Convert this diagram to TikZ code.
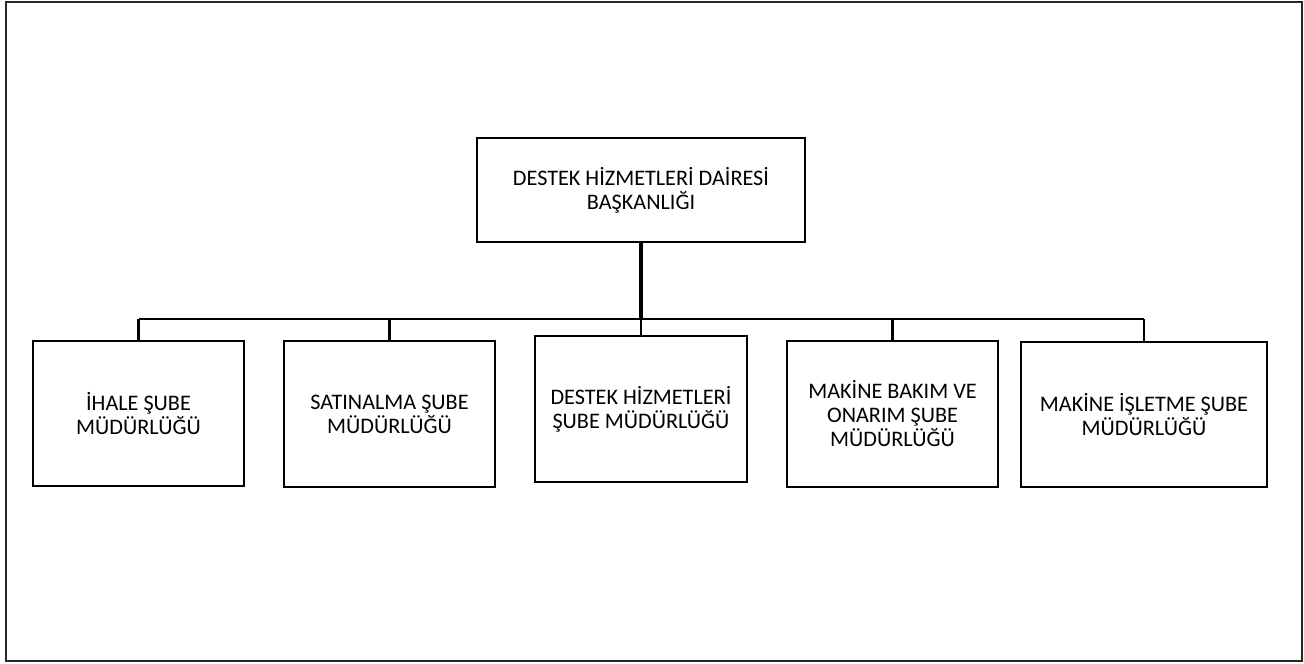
\documentclass[tikz,border=0pt]{standalone}
\usepackage{fontspec}
\setmainfont{Carlito}
\usetikzlibrary{positioning}

\begin{document}
\begin{tikzpicture}[
  x=1pt,y=-1pt,
  font=\fontsize{22.2}{24}\selectfont,
  unit/.style={draw,line width=2.8pt,align=center,inner sep=0pt},
  stem/.style={line width=3.2pt},
  link/.style={line width=2.4pt},
  frame/.style={draw=black!85,line width=2.6pt}
]
% page size and outer frame
\useasboundingbox (0,0) rectangle (1304,664);
\draw[frame] (6,2) rectangle (1302,661);

% head of the department
\node[unit,minimum width=328pt,minimum height=104pt] (dhdb) at (641,190)
  {DESTEK HİZMETLERİ DAİRESİ\\BAŞKANLIĞI};

% branch offices (left, right, top, bottom in px)
\foreach \id/\xa/\xb/\ya/\yb/\txt in {
  ihale/33/244/341/486/{İHALE ŞUBE\\MÜDÜRLÜĞÜ},
  satin/284/495/341/487/{SATINALMA ŞUBE\\MÜDÜRLÜĞÜ},
  destek/535/747/336/482/{DESTEK HİZMETLERİ\\ŞUBE MÜDÜRLÜĞÜ},
  bakim/787/998/341/487/{MAKİNE BAKIM VE\\ONARIM ŞUBE\\MÜDÜRLÜĞÜ},
  isletme/1021/1267/342/487/{MAKİNE İŞLETME ŞUBE\\MÜDÜRLÜĞÜ}}
  \node[unit,minimum width={(\xb-\xa)*1pt},minimum height={(\yb-\ya)*1pt}]
    (\id) at ({(\xa+\xb)/2},{(\ya+\yb)/2}) {\txt};

% connectors
\coordinate (bus) at (641,319);
\draw[stem] (dhdb.south) -- (dhdb.south |- bus);
\draw[link] (ihale.north |- bus) -- (isletme.north |- bus);
\foreach \id in {ihale,satin,destek,bakim,isletme}
  \draw[link] (\id.north) -- (\id.north |- bus);
\end{tikzpicture}
\end{document}
